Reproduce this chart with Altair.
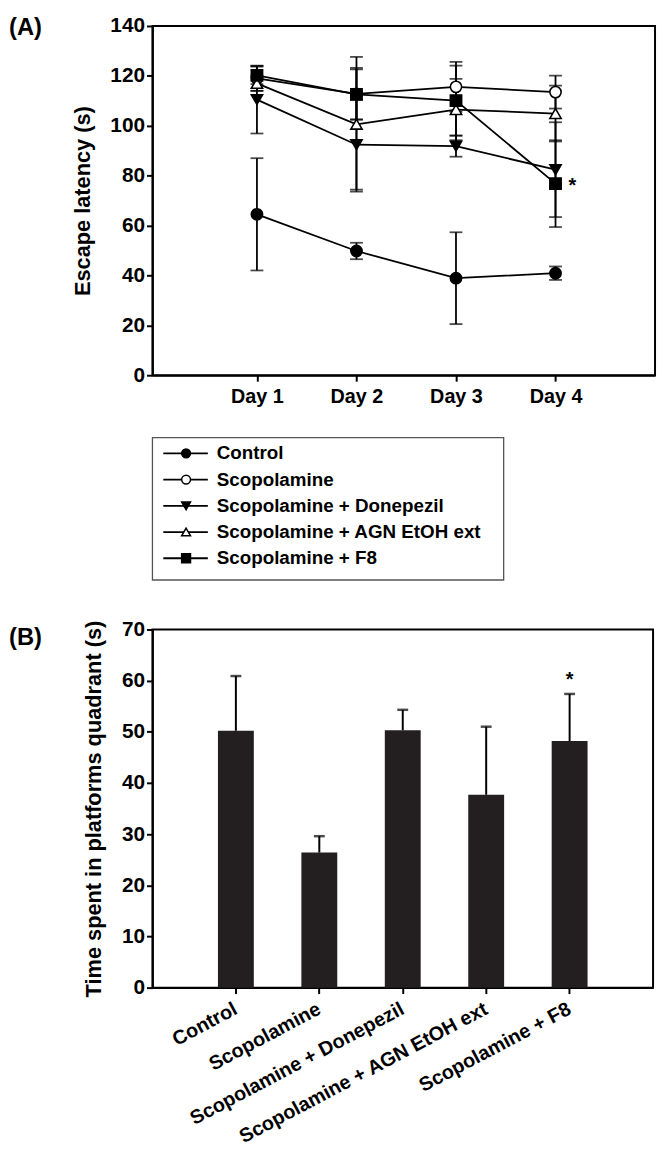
import altair as alt
import pandas as pd

FONT = "Liberation Sans"

# ---------------- data ----------------
groups = [
    "Control",
    "Scopolamine",
    "Scopolamine + Donepezil",
    "Scopolamine + AGN EtOH ext",
    "Scopolamine + F8",
]
days = [1, 2, 3, 4]
day_labels = ["Day 1", "Day 2", "Day 3", "Day 4"]

# Panel A: escape latency (s), mean and error per day
lat_control = [64.5, 49.8, 38.9, 40.9]
lat_scop = [119.0, 112.8, 115.6, 113.5]
lat_donepezil = [110.5, 92.4, 91.8, 82.4]
lat_agn = [117.0, 100.6, 106.5, 104.9]
lat_f8 = [120.2, 112.6, 110.1, 76.8]

err_control = [22.5, 3.3, 18.4, 2.7]
err_scop = [5.0, 10.4, 10.0, 6.6]
err_donepezil = [13.6, 18.0, 4.2, 19.0]
err_agn = [3.0, 27.0, 12.3, 11.2]
err_f8 = [3.5, 10.0, 14.0, 17.4]

shapes = ["circle", "circle", "triangle-down", "triangle-up", "square"]
fills = ["black", "white", "black", "white", "black"]

# Panel B: time spent in platform quadrant (s)
time_mean = [50.2, 26.4, 50.3, 37.7, 48.2]
time_err = [10.7, 3.2, 4.0, 13.3, 9.2]

# ---------------- tables ----------------
series_means = [lat_control, lat_scop, lat_donepezil, lat_agn, lat_f8]
series_errs = [err_control, err_scop, err_donepezil, err_agn, err_f8]
rows = []
for g, ms, es in zip(groups, series_means, series_errs):
    for d, m, e in zip(days, ms, es):
        rows.append({"group": g, "day": d, "mean": m, "lo": m - e, "hi": m + e})
df_a = pd.DataFrame(rows)

df_leg = pd.DataFrame({"group": groups, "idx": list(range(len(groups)))})

df_b = pd.DataFrame({
    "group": groups,
    "mean": time_mean,
    "hi": [m + e for m, e in zip(time_mean, time_err)],
})

shape_scale = alt.Scale(domain=groups, range=shapes)
fill_scale = alt.Scale(domain=groups, range=fills)

label_expr = "[" + ",".join("'%s'" % l for l in day_labels) + "][datum.value - 1]"

# ---------------- panel A ----------------
xA = alt.X(
    "day:Q",
    scale=alt.Scale(domain=[-0.05, 5], nice=False, zero=False),
    axis=alt.Axis(values=days, labelExpr=label_expr, title=None, grid=False,
                  labelPadding=6, labelFontSize=20),
)


def yA(field):
    return alt.Y(
        field,
        scale=alt.Scale(domain=[0, 140], nice=False),
        axis=alt.Axis(values=list(range(0, 141, 20)), title="Escape latency (s)",
                      grid=False, titlePadding=16),
    )


baseA = alt.Chart(df_a)
linesA = baseA.mark_line(color="black", strokeWidth=1.8).encode(
    x=xA, y=yA("mean:Q"), detail="group:N"
)
rulesA = baseA.mark_rule(color="black", strokeWidth=1.8).encode(
    x=xA, y=yA("lo:Q"), y2="hi:Q"
)
capsLoA = baseA.mark_tick(orient="horizontal", size=13, thickness=1.8, color="black").encode(
    x=xA, y=yA("lo:Q")
)
capsHiA = baseA.mark_tick(orient="horizontal", size=13, thickness=1.8, color="black").encode(
    x=xA, y=yA("hi:Q")
)
pointsA = baseA.mark_point(size=130, opacity=1, fillOpacity=1, strokeWidth=1.6).encode(
    x=xA,
    y=yA("mean:Q"),
    shape=alt.Shape("group:N", scale=shape_scale, legend=None),
    fill=alt.Fill("group:N", scale=fill_scale, legend=None),
    stroke=alt.value("black"),
)
starA = baseA.transform_filter(
    (alt.datum.group == groups[4]) & (alt.datum.day == days[3])
).mark_text(text="*", fontSize=20, fontWeight="bold", font=FONT, dx=17, dy=2, color="black").encode(
    x=xA, y=yA("mean:Q")
)
labelA = alt.Chart(pd.DataFrame({"t": ["(A)"]})).mark_text(
    align="left", baseline="middle", fontSize=24, fontWeight="bold", font=FONT, color="black"
).encode(text="t:N", x=alt.value(-145), y=alt.value(2))

panelA = alt.layer(linesA, rulesA, capsLoA, capsHiA, pointsA, starA, labelA).properties(
    width=508, height=353, view=alt.ViewBackground(stroke="black", strokeWidth=2)
)

# ---------------- legend panel ----------------
yL = alt.Y("idx:Q", scale=alt.Scale(domain=[-1.094, 4.83], reverse=True, nice=False, zero=False),
           axis=None)
baseL = alt.Chart(df_leg)
frameL = alt.Chart(pd.DataFrame({"f": [0]})).mark_rect(
    fill="white", fillOpacity=0, stroke="#555555", strokeWidth=1.3
).encode(x=alt.value(0), x2=alt.value(355), y=alt.value(13), y2=alt.value(157))
linesL = baseL.mark_rule(color="black", strokeWidth=1.8).encode(
    x=alt.value(11), x2=alt.value(56), y=yL
)
pointsL = baseL.mark_point(size=80, opacity=1, fillOpacity=1, strokeWidth=1.5).encode(
    x=alt.value(34), y=yL,
    shape=alt.Shape("group:N", scale=shape_scale, legend=None),
    fill=alt.Fill("group:N", scale=fill_scale, legend=None),
    stroke=alt.value("black"),
)
textL = baseL.mark_text(align="left", baseline="middle", fontSize=19, fontWeight="bold",
                        font=FONT, color="black").encode(
    x=alt.value(65), y=yL, text="group:N"
)
panelL = alt.layer(frameL, linesL, pointsL, textL).properties(
    width=355, height=157, view=alt.ViewBackground(strokeOpacity=0)
)

# ---------------- panel B ----------------
xB = alt.X(
    "group:N",
    sort=groups,
    scale=alt.Scale(domain=groups, paddingInner=0.57, paddingOuter=0.785),
    axis=alt.Axis(title=None, labelAngle=332, labelAlign="right", labelBaseline="middle",
                  labelPadding=14, labelLimit=0, labelFontSize=20),
)


def yB(field):
    return alt.Y(
        field,
        scale=alt.Scale(domain=[0, 70], nice=False),
        axis=alt.Axis(values=list(range(0, 71, 10)),
                      title="Time spent in platforms quadrant (s)", grid=False, titlePadding=16),
    )


baseB = alt.Chart(df_b)
barsB = baseB.mark_bar(color="#231f20").encode(x=xB, y=yB("mean:Q"))
rulesB = baseB.mark_rule(color="black", strokeWidth=2).encode(x=xB, y=yB("mean:Q"), y2="hi:Q")
capsB = baseB.mark_tick(orient="horizontal", size=11, thickness=2.5, color="black").encode(
    x=xB, y=yB("hi:Q")
)
starB = baseB.transform_filter(alt.datum.group == groups[4]).mark_text(
    text="*", fontSize=20, fontWeight="bold", font=FONT, baseline="bottom", dy=-4, color="black"
).encode(x=xB, y=yB("hi:Q"))
labelB = alt.Chart(pd.DataFrame({"t": ["(B)"]})).mark_text(
    align="left", baseline="middle", fontSize=24, fontWeight="bold", font=FONT, color="black"
).encode(text="t:N", x=alt.value(-145), y=alt.value(9))

panelB = alt.layer(barsB, rulesB, capsB, starB, labelB).properties(
    width=506, height=362, view=alt.ViewBackground(stroke="black", strokeWidth=2)
)

chart = alt.vconcat(panelA, panelL, panelB, spacing=50, bounds="flush").configure(
    padding={"left": 0, "top": 0, "right": 2, "bottom": 0},
    background="white",
).configure_view(stroke="transparent").configure_axis(
    domainColor="black", domainWidth=2, tickColor="black", tickWidth=2, tickSize=6,
    labelColor="black", labelFont=FONT, labelFontWeight="bold", labelFontSize=21,
    titleColor="black", titleFont=FONT, titleFontWeight="bold", titleFontSize=22, grid=False,
)

chart.save("out.html", embed_options={"renderer": "svg", "actions": False})
